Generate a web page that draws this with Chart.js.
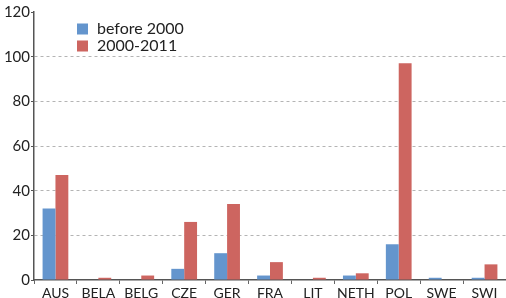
<!DOCTYPE html>
<html>
<head>
<meta charset="utf-8">
<script src="https://cdn.jsdelivr.net/npm/chart.js@4/dist/chart.umd.min.js"></script>
<style>
  html, body { margin: 0; padding: 0; background: #fff; }
  #wrap { width: 506px; height: 298px; position: relative; }
</style>
</head>
<body>
<div id="wrap"><canvas id="c"></canvas></div>
<script>
const countries = ['AUS', 'BELA', 'BELG', 'CZE', 'GER', 'FRA', 'LIT', 'NETH', 'POL', 'SWE', 'SWI'];
const before2000 = [32, 0, 0, 5, 12, 2, 0, 2, 16, 1, 1];
const since2000 = [47, 1, 2, 26, 34, 8, 1, 3, 97, 0, 7];
const seriesNames = ['before 2000', '2000-2011'];

const blue = '#6495cd';
const red = '#cd6560';
const font = 'Lato, "Open Sans", sans-serif';

// legend sits inside the plot, top left
const insideLegend = {
    id: 'insideLegend',
    afterDraw(chart) {
        const ctx = chart.ctx;
        const cols = [blue, red];
        ctx.save();
        ctx.font = '16px ' + font;
        ctx.textBaseline = 'middle';
        seriesNames.forEach((name, i) => {
            const y = 29 + i * 17;
            ctx.fillStyle = cols[i];
            ctx.fillRect(77, y - 5.5, 11, 11);
            ctx.fillStyle = '#222';
            ctx.fillText(name, 97, y);
        });
        ctx.restore();
    }
};

new Chart(document.getElementById('c'), {
    type: 'bar',
    data: {
        labels: countries,
        datasets: [
            { label: seriesNames[0], data: before2000, backgroundColor: blue },
            { label: seriesNames[1], data: since2000, backgroundColor: red }
        ]
    },
    options: {
        responsive: true,
        maintainAspectRatio: false,
        animation: false,
        layout: { padding: { top: 12, right: 0, left: 0, bottom: 0 } },
        datasets: { bar: { categoryPercentage: 0.6, barPercentage: 1.0 } },
        plugins: { legend: { display: false }, tooltip: { enabled: false } },
        scales: {
            x: {
                afterFit(scale) { scale.height = 18; },
                grid: { drawOnChartArea: false, drawTicks: true, tickLength: 4, color: '#666' },
                border: { color: '#555', width: 1.5 },
                ticks: { color: '#222', font: { family: font, size: 14 }, padding: 1, maxRotation: 0, autoSkip: false }
            },
            y: {
                min: 0,
                max: 120,
                afterFit(scale) { scale.width = 34; },
                grid: {
                    color: ctx => (ctx.tick.value === 0 || ctx.tick.value === 120) ? 'rgba(0,0,0,0)' : '#b4b4b4',
                    tickColor: '#555',
                    tickLength: 3,
                    lineWidth: 1
                },
                border: { color: '#555', width: 1.5, dash: [3, 3] },
                ticks: { stepSize: 20, color: '#222', font: { family: font, size: 15 }, padding: 1 }
            }
        }
    },
    plugins: [insideLegend]
});
</script>
</body>
</html>
